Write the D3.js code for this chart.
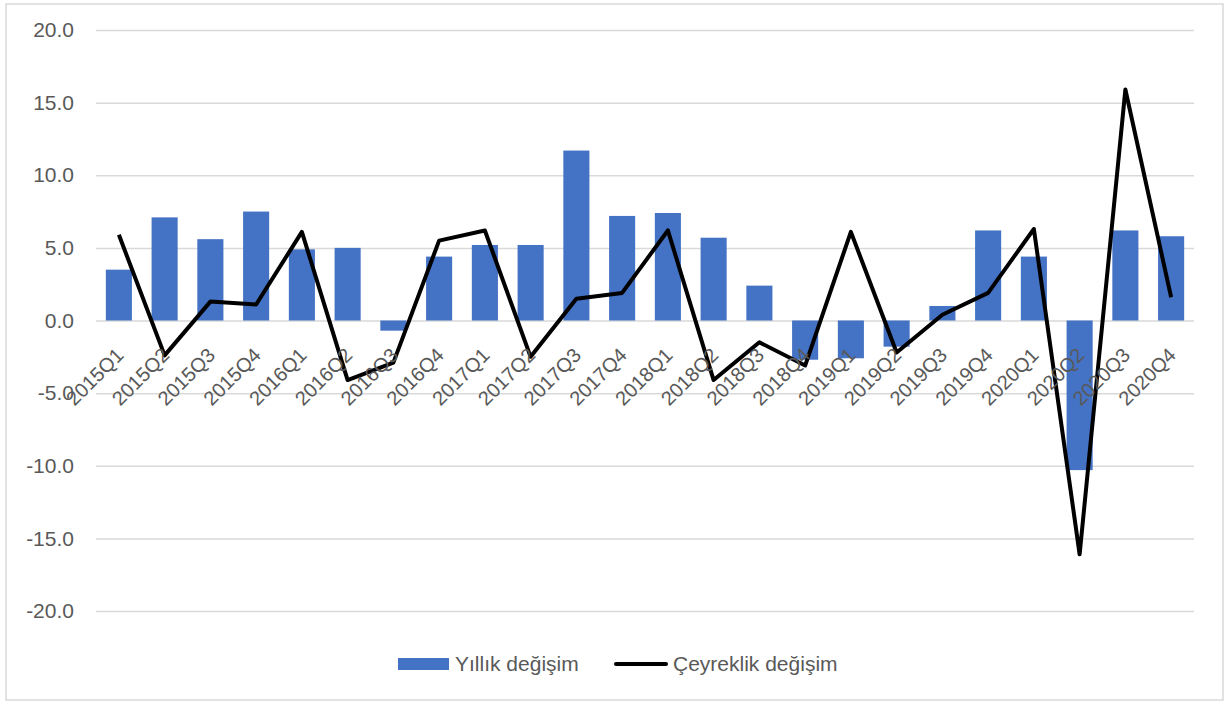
<!DOCTYPE html>
<html>
<head>
<meta charset="utf-8">
<script src="https://cdn.jsdelivr.net/npm/d3@7"></script>
<style>
  body { margin: 0; background: #fff; }
  svg text { font-family: "Liberation Sans", "Noto Sans", sans-serif; fill: #595959; }
</style>
</head>
<body>
<svg id="chart"></svg>
<script>
// categories and series
let quarters = ["2015Q1", "2015Q2", "2015Q3", "2015Q4", "2016Q1", "2016Q2", "2016Q3", "2016Q4",
    "2017Q1", "2017Q2", "2017Q3", "2017Q4", "2018Q1", "2018Q2", "2018Q3", "2018Q4",
    "2019Q1", "2019Q2", "2019Q3", "2019Q4", "2020Q1", "2020Q2", "2020Q3", "2020Q4"];
let yillik = [3.5, 7.1, 5.6, 7.5, 4.9, 5.0, -0.7, 4.4,
    5.2, 5.2, 11.7, 7.2, 7.4, 5.7, 2.4, -2.7,
    -2.6, -1.8, 1.0, 6.2, 4.4, -10.3, 6.2, 5.8];
let ceyreklik = [5.9, -2.4, 1.3, 1.1, 6.1, -4.1, -2.9, 5.5,
    6.2, -2.5, 1.5, 1.9, 6.2, -4.1, -1.5, -3.1,
    6.1, -2.2, 0.4, 1.9, 6.3, -16.1, 15.9, 1.6];
let yTicks = [-20, -15, -10, -5, 0, 5, 10, 15, 20];
let seriesNames = ["Yıllık değişim", "Çeyreklik değişim"];

function draw_chart(id) {
    let width = 1229, height = 704;
    let svg = d3.select('#' + id).attr('width', width).attr('height', height);

    // 外框
    svg.append('rect')
        .attr('x', 6).attr('y', 4).attr('width', width - 12).attr('height', height - 8)
        .attr('fill', '#fff').attr('stroke', '#d9d9d9').attr('stroke-width', 1.5);

    let margin = { top: 30, right: 35, bottom: 93, left: 96 };
    let x = d3.scaleBand(quarters, [margin.left, width - margin.right]).paddingInner(0.43).paddingOuter(0.215);
    let y = d3.scaleLinear([-20, 20], [height - margin.bottom, margin.top]);

    // grid + y labels
    let yAxis = svg.append('g')
        .attr('transform', `translate(${margin.left},0)`)
        .call(d3.axisLeft(y).tickValues(yTicks)
            .tickSize(-(width - margin.left - margin.right)).tickPadding(22));
    yAxis.select('.domain').remove();
    yAxis.selectAll('.tick line').attr('stroke', '#d9d9d9').attr('stroke-width', 1.5);
    yAxis.selectAll('.tick text').attr('font-size', 21).style('fill', '#595959')
        .text(d => d < 0 ? '-' + Math.abs(d).toFixed(1) : d.toFixed(1));

    // bars
    svg.append('g').selectAll('rect')
        .data(yillik)
        .join('rect')
        .attr('x', (d, i) => x(quarters[i]))
        .attr('width', x.bandwidth())
        .attr('y', d => y(Math.max(0, d)))
        .attr('height', d => Math.abs(y(d) - y(0)))
        .attr('fill', '#4472c4');

    // line
    let line = d3.line()
        .x((d, i) => x(quarters[i]) + x.bandwidth() / 2)
        .y(d => y(d));
    svg.append('path')
        .datum(ceyreklik)
        .attr('d', line)
        .attr('fill', 'none')
        .attr('stroke', '#000')
        .attr('stroke-width', 4)
        .attr('stroke-linejoin', 'round');

    // x labels, rotated below the zero line
    svg.append('g').selectAll('text')
        .data(quarters)
        .join('text')
        .attr('transform', d => `translate(${x(d) + x.bandwidth() / 2 + 6},${y(0) + 36}) rotate(-45)`)
        .attr('text-anchor', 'end')
        .attr('font-size', 20)
        .text(d => d);

    // legend
    let lg = svg.append('g').attr('transform', `translate(0,664)`);
    lg.append('rect').attr('x', 398).attr('y', -6).attr('width', 51).attr('height', 12).attr('fill', '#4472c4');
    lg.append('text').attr('x', 455).attr('dy', '0.35em').attr('font-size', 21).text(seriesNames[0]);
    lg.append('line').attr('x1', 616).attr('x2', 666).attr('stroke', '#000').attr('stroke-width', 4).attr('stroke-linecap', 'round');
    lg.append('text').attr('x', 673).attr('dy', '0.35em').attr('font-size', 21).text(seriesNames[1]);
}

draw_chart('chart');
</script>
</body>
</html>
